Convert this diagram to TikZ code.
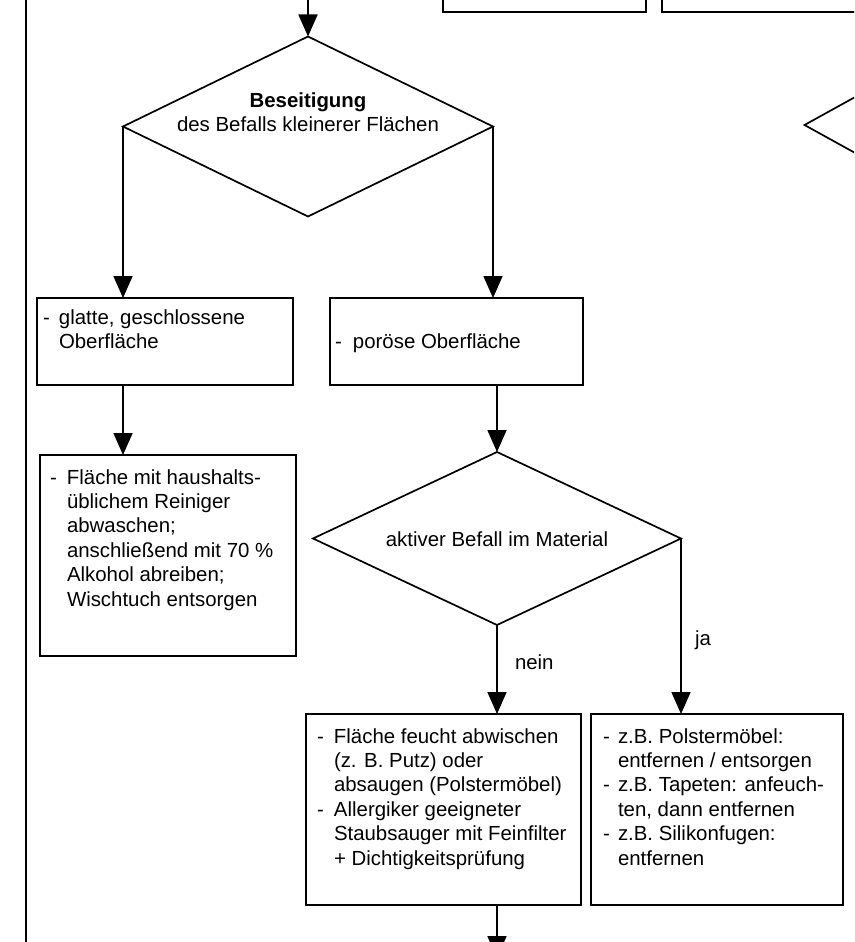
\documentclass[tikz,border=0pt]{standalone}
\usepackage{fontspec}
\setmainfont{Liberation Sans}
\usetikzlibrary{shapes.geometric,arrows.meta}
\begin{document}
\begin{tikzpicture}[x=1pt,y=-1pt,
  line width=1.7pt,
  every node/.style={inner sep=0pt, outer sep=0pt, font=\fontsize{20.4}{24.4}\selectfont},
  dia/.style={draw, diamond, minimum width=371pt, minimum height=180pt},
  box/.style={draw, rectangle, anchor=north west},
  topbox/.style={draw, rectangle, line width=2.4pt, anchor=south west, minimum height=40pt},
  arr/.style={-{Triangle[length=22pt,width=19pt]}},
  txt/.style={anchor=base west},
  lbl/.style={anchor=base west},
]
\useasboundingbox (0,0) rectangle (854,942);
\clip (0,0) rectangle (854,942);
\fill[white] (0,0) rectangle (854,942);

% page edge line
\coordinate (pl1) at (26,0);
\coordinate (pl2) at (26,942);
\draw[line width=1.5pt] (pl1) -- (pl2);

% partial elements at the top / right
\node[topbox, minimum width=203pt] (t1) at (443,12) {};
\node[topbox, minimum width=230pt] (t2) at (662,12) {};
\node[dia, minimum height=205pt] (d3) at (990,125) {};

% main decision
\node[dia, minimum width=370pt] (d1) at (308,126.5) {};
\node[anchor=base] (d1t) at (308,107) {\begin{tabular}[t]{@{}c@{}}\textbf{Beseitigung}\\des Befalls kleinerer Flächen\end{tabular}};
\coordinate (top) at (308,0);
\draw[arr] (top) -- (d1.north);

% first level boxes
\node[box, minimum width=256pt, minimum height=87pt] (g) at (37,298) {};
\node[txt] (gt) at (43,324) {\begin{tabular}[t]{@{}p{16pt}@{}l@{}}-&glatte, geschlossene\\&Oberfläche\end{tabular}};

\node[box, minimum width=253pt, minimum height=87pt] (p) at (330,298) {};
\node[txt] (pt) at (335,348) {\begin{tabular}[t]{@{}p{18pt}@{}l@{}}-&poröse Oberfläche\end{tabular}};

\draw[arr] (d1.west) -- (d1.west |- g.north);
\draw[arr] (d1.east) -- (d1.east |- p.north);

% left cleaning box
\node[box, minimum width=256pt, minimum height=201pt] (f) at (40,455) {};
\node[txt] (ft) at (50,484) {\begin{tabular}[t]{@{}p{17pt}@{}l@{}}-&Fläche mit haushalts-\\&üblichem Reiniger\\&abwaschen;\\&anschließend mit 70 \%\\&Alkohol abreiben;\\&Wischtuch entsorgen\end{tabular}};
\draw[arr] (d1.west |- g.south) -- (d1.west |- f.north);

% second decision
\node[dia, minimum width=368pt, minimum height=173pt] (d2) at (497,538.5) {};
\node[anchor=base] (d2t) at (497,546) {aktiver Befall im Material};
\draw[arr] (d2.north |- p.south) -- (d2.north);

% outcome boxes
\node[box, minimum width=275pt, minimum height=191pt] (n) at (306,714) {};
\node[txt] (nt) at (317,743) {\begin{tabular}[t]{@{}p{17pt}@{}l@{}}-&Fläche feucht abwischen\\&(z. B. Putz) oder\\&absaugen (Polstermöbel)\\-&Allergiker geeigneter\\&Staubsauger mit Feinfilter\\&+ Dichtigkeitsprüfung\end{tabular}};

\node[box, minimum width=252pt, minimum height=191pt] (j) at (591,714) {};
\node[txt] (jt) at (603,743) {\begin{tabular}[t]{@{}p{15pt}@{}l@{}}-&z.B. Polstermöbel:\\&entfernen / entsorgen\\-&z.B. Tapeten: anfeuch-\\&ten, dann entfernen\\-&z.B. Silikonfugen:\\&entfernen\end{tabular}};

\draw[arr] (d2.south) -- node[lbl, pos=0.5, xshift=18pt] (nein) {nein} (d2.south |- n.north);
\draw[arr] (d2.east) -- node[lbl, pos=0.61, xshift=14pt] (ja) {ja} (d2.east |- j.north);

\coordinate (bend) at (497,958);
\draw[arr] (d2.south |- n.south) -- (bend);
\end{tikzpicture}
\end{document}
